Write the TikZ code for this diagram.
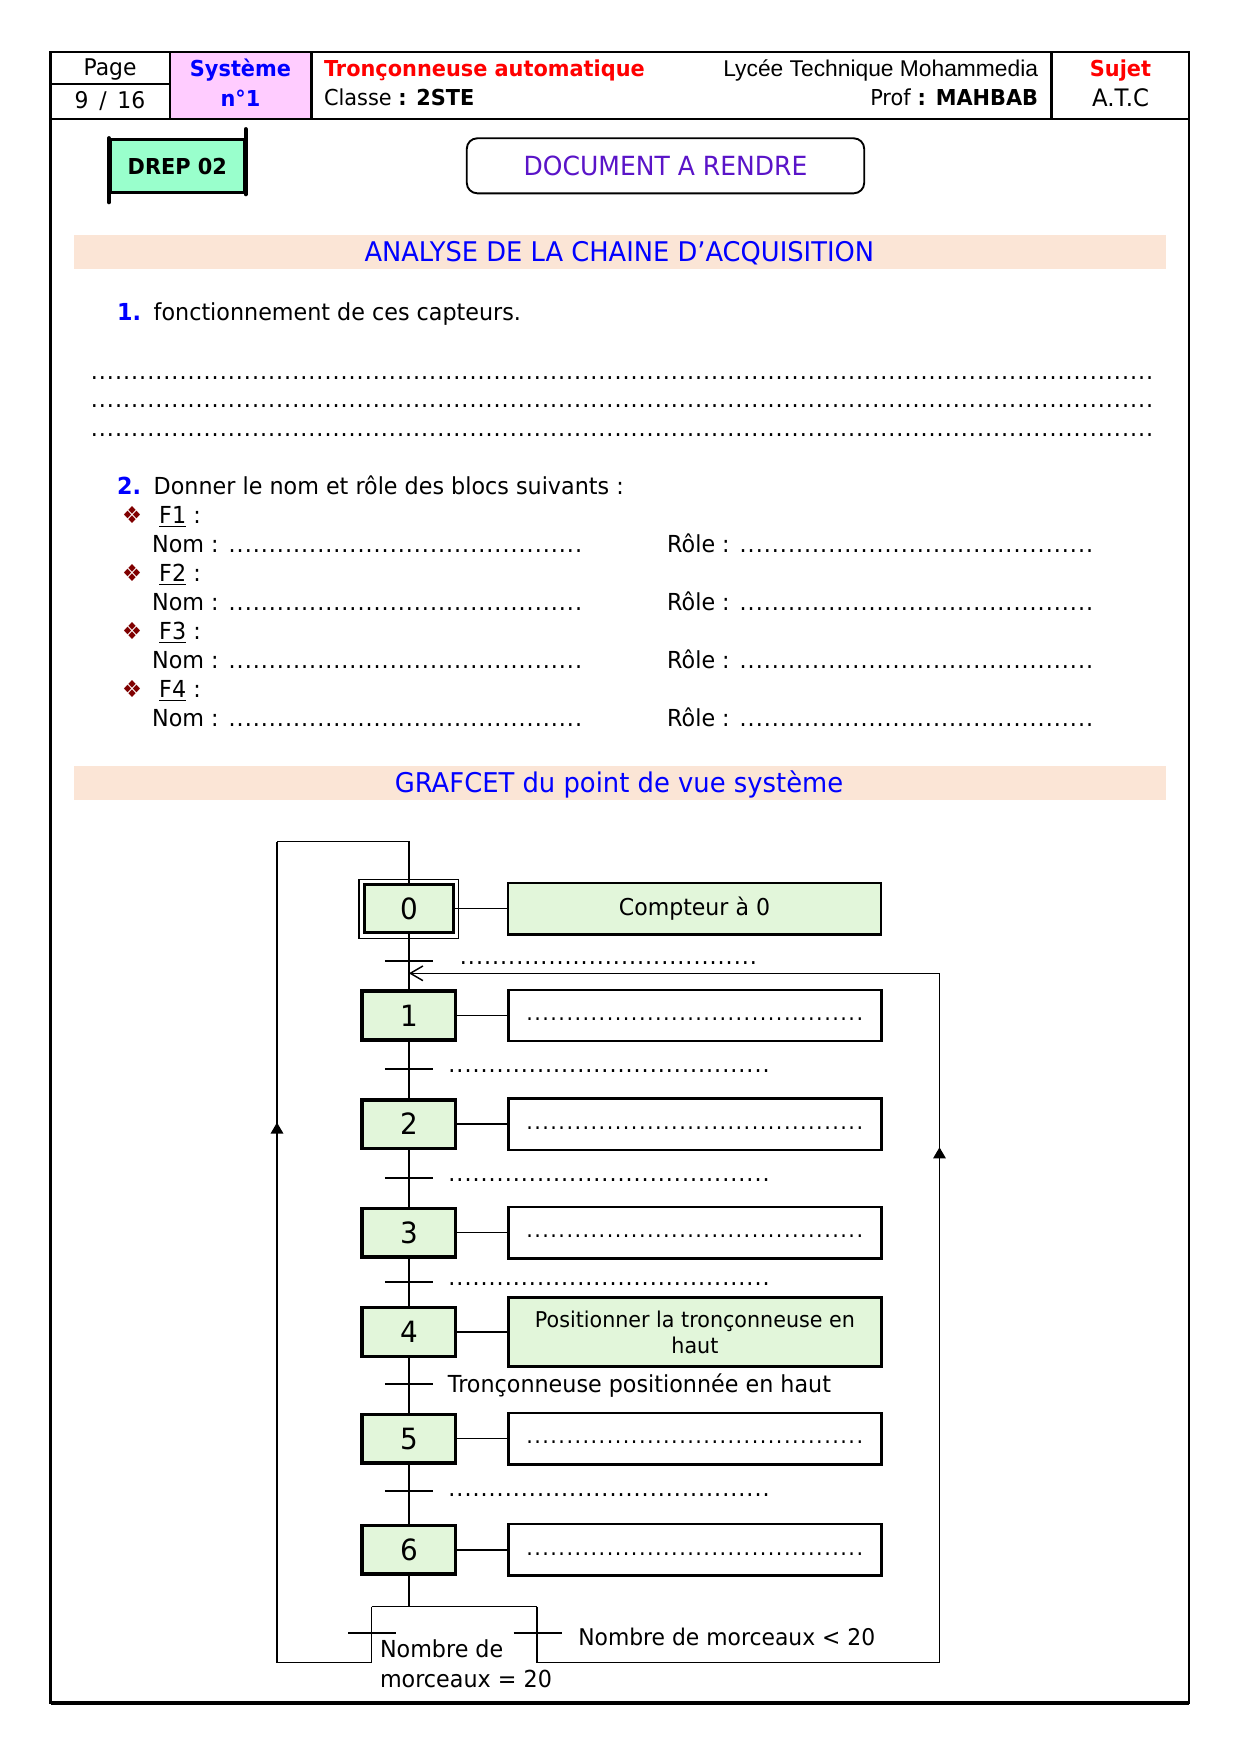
\documentclass[tikz,border=0pt]{standalone}
\usepackage{fontspec}
\setmainfont{DejaVu Sans}[FakeStretch=0.95]
\newfontfamily\arialfont{Liberation Sans}
\usetikzlibrary{arrows.meta,positioning,calc,decorations.markings}
\definecolor{titleblue}{HTML}{0000FF}
\definecolor{titlered}{HTML}{FF0000}
\definecolor{docpurple}{HTML}{5A14C8}
\definecolor{bandpeach}{HTML}{FBE5D6}
\definecolor{cellpink}{HTML}{FFCCFF}
\definecolor{drepgreen}{HTML}{99FFCC}
\definecolor{stepgreen}{HTML}{E2F6DA}
\definecolor{bulletred}{HTML}{800000}
\newcommand\pointilles[1]{\hbox to #1{\leaders\hbox to 3.85pt{\hss.\hss}\hfill}}

\begin{document}
\begin{tikzpicture}[
  x=0.4781pt, y=-0.4781pt,
  font=\fontsize{11.2}{13.5}\selectfont,
  txt/.style={anchor=base west, inner sep=0pt},
  hdr/.style={anchor=base, inner sep=0pt, font=\fontsize{10.5}{12}\selectfont},
  hdrbold/.style={hdr, font=\fontsize{10.5}{12}\selectfont\bfseries},
  stepbox/.style={draw, line width=1.7pt, fill=stepgreen, minimum width=44.7pt,
    minimum height=23.3pt, inner sep=0pt, font=\fontsize{14}{16}\selectfont},
  stepzero/.style={stepbox, line width=1.3pt, minimum width=42.5pt, minimum height=23pt},
  actbox/.style={draw, line width=1.2pt, minimum width=178.5pt, minimum height=24.6pt,
    align=center, inner sep=1pt, font=\fontsize{10.4}{12.4}\selectfont},
  link/.style={line width=0.7pt},
  tick/.style={line width=0.9pt},
  upmark/.style={postaction={decorate, decoration={markings,
    mark=at position #1 with {\arrow{Triangle[length=5.3pt,width=6pt]}}}}}
]
\useasboundingbox (0,0) rectangle (1245,1755);
\fill[white] (0,0) rectangle (1245,1755);

% cartouche
\fill[cellpink] (170,52) rectangle (311.5,119.3);
\draw[line width=1.2pt] (50.5,52) rectangle (1189,1703);
\draw[line width=1.9pt] (50.5,1703) -- (1189,1703);
\draw[line width=1pt] (50.5,119.3) -- (1189,119.3);
\draw[line width=1pt] (170,52) -- (170,119.3);
\draw[line width=1pt] (311.5,52) -- (311.5,119.3);
\draw[line width=1pt] (1051.5,52) -- (1051.5,119.3);
\draw[line width=1pt] (50.5,84.3) -- (170,84.3);
\node[hdr, font=\fontsize{11}{12}\selectfont] (page) at (110,75) {Page};
\node[hdr, font=\fontsize{11}{12}\selectfont] (pnum) at (110,108) {9 \,/\, 16};
\node[hdrbold, text=titleblue] (sys) at (240.5,76) {Système};
\node[hdrbold, text=titleblue] (sysn) at (240.5,106.5) {n°1};
\node[hdrbold, anchor=base west, text=titlered] (titre) at (323.6,76.7) {Tronçonneuse automatique};
\node[hdr, anchor=base west] (classe) at (323.6,105) {Classe \textbf{: 2STE}};
\node[hdr, anchor=base east, font=\fontsize{10.9}{13}\selectfont\arialfont] (lycee) at (1038.5,76.7) {Lycée Technique Mohammedia};
\node[hdr, anchor=base east] (prof) at (1038.5,105) {Prof \textbf{: MAHBAB}};
\node[hdrbold, text=titlered] (sujet) at (1120.5,76) {Sujet};
\node[hdr, font=\fontsize{11.5}{12}\selectfont] (atc) at (1120.5,106.5) {A.T.C};

% en-tete du document
\node[draw, line width=1.4pt, fill=drepgreen, minimum width=64pt, minimum height=25.4pt,
  inner sep=0pt, font=\fontsize{10.5}{12}\selectfont\bfseries] (drep) at (177.3,166.2) {DREP 02};
\draw[line width=2pt, line cap=round] (drep.north west) -- ($(drep.south west)+(0,8)$);
\draw[line width=2pt, line cap=round] ($(drep.north east)+(0,-9)$) -- (drep.south east);
\node[draw, line width=0.9pt, rounded corners=5pt, minimum width=190pt, minimum height=26.3pt,
  text=docpurple, font=\fontsize{12.6}{14}\selectfont] (docrendre) at (665.5,165.8) {DOCUMENT A RENDRE};

% partie 1
\fill[bandpeach] (74,235) rectangle (1166,269.3);
\node[anchor=base, inner sep=0pt, text=titleblue, font=\fontsize{12.95}{15}\selectfont] (titre1) at (619.3,261.6) {ANALYSE DE LA CHAINE D’ACQUISITION};
\node[txt, text=titleblue, font=\fontsize{11.2}{13.5}\selectfont\bfseries] (q1num) at (116.7,320) {1.};
\node[txt] (q1txt) at (153.3,320) {fonctionnement de ces capteurs.};
\foreach \i/\y in {1/379,2/407.5,3/436}
  \node[txt] (pl\i) at (90,\y) {\pointilles{510pt}};
\node[txt, text=titleblue, font=\fontsize{11.2}{13.5}\selectfont\bfseries] (q2num) at (116.7,494) {2.};
\node[txt] (q2txt) at (153.3,494) {Donner le nom et rôle des blocs suivants :};
\foreach \i/\y in {1/523,2/581,3/639,4/697} {
  \node[anchor=base, inner sep=0pt, text=bulletred] (bul\i) at (132,\y) {❖};
  \node[txt] (f\i) at (158.8,\y) {\underline{F\i} :};
  \node[txt] (nom\i) at (151.8,\y+29) {Nom : \pointilles{170pt}};
  \node[txt] (role\i) at (666.8,\y+29) {Rôle : \pointilles{171pt}};
}

% grafcet
\fill[bandpeach] (74,766) rectangle (1166,800);
\node[anchor=base, inner sep=0pt, text=titleblue, font=\fontsize{13}{15}\selectfont] (titre2) at (619,792.6) {GRAFCET du point de vue système};

\node[stepzero] (s0) at (408.9,908.7) {0};
\draw[line width=0.6pt] ($(s0.north west)+(-4,-4)$) rectangle ($(s0.south east)+(4,4)$);
\node[stepbox] (s1) at (408.9,1015.5) {1};
\node[stepbox] (s2) at (408.9,1124.1) {2};
\node[stepbox] (s3) at (408.9,1232.7) {3};
\node[stepbox] (s4) at (408.9,1332) {4};
\node[stepbox] (s5) at (408.9,1438.7) {5};
\node[stepbox] (s6) at (408.9,1549.8) {6};

\node[actbox, fill=stepgreen, font=\fontsize{11.1}{13}\selectfont, right=24.8pt of s0] (a0) {Compteur à 0};
\node[actbox, right=23.7pt of s1] (a1) {\strut\pointilles{162pt}};
\node[actbox, right=23.7pt of s2] (a2) {\strut\pointilles{162pt}};
\node[actbox, right=23.7pt of s3] (a3) {\strut\pointilles{162pt}};
\node[actbox, fill=stepgreen, minimum height=32.8pt, right=23.7pt of s4] (a4) {Positionner la tronçonneuse en\\haut};
\node[actbox, right=23.7pt of s5] (a5) {\strut\pointilles{162pt}};
\node[actbox, right=23.7pt of s6] (a6) {\strut\pointilles{162pt}};

\foreach \n in {0,...,6}
  \draw[link] (s\n) -- (a\n);
\foreach \n [evaluate=\n as \m using int(\n+1)] in {0,...,5}
  \draw[link] (s\n) -- (s\m);

% receptivites
\foreach \n/\y in {0/960.7,1/1069,2/1178,3/1282,4/1384.3,5/1491} {
  \coordinate (t\n) at (408.9,\y);
  \draw[tick] ($(t\n)+(-24,0)$) -- ($(t\n)+(24,0)$);
}
\node[txt] (r0) at (459,964.5) {\pointilles{144pt}};
\foreach \n/\y in {1/1072.5,2/1181.5,3/1285,5/1496}
  \node[txt] (r\n) at (447.5,\y) {\pointilles{157pt}};
\node[txt] (r4) at (447.5,1392.6) {Tronçonneuse positionnée en haut};

% divergence en OU et bouclages
\coordinate (jn) at (408.9,1606.7);
\coordinate (ouG) at (371.6,1606.7);
\coordinate (ouD) at (536.8,1606.7);
\coordinate (bG) at (371.6,1662.7);
\coordinate (bD) at (536.8,1662.7);
\coordinate (cG) at (277,1662.7);
\coordinate (cD) at (939.5,1662.7);
\coordinate (hG) at (277,841.7);
\coordinate (top0) at (408.9,841.7);
\coordinate (hD) at (939.5,973.3);
\coordinate (e1) at (408.9,973.3);
\draw[link] (s6) -- (jn);
\draw[link] (ouG) -- (ouD);
\draw[link] (ouG) -- (bG) -- (cG);
\draw[link, upmark=0.658] (cG) -- (hG);
\draw[link] (hG) -- (top0) -- (s0);
\draw[link] (ouD) -- (bD) -- (cD);
\draw[link, upmark=0.7476] (cD) -- (hD);
\draw[link, -{Straight Barb[length=6pt,width=7pt]}] (hD) -- (e1);
\draw[tick] (348,1633.3) -- (396,1633.3);
\draw[tick] (513.6,1633.3) -- (562.2,1633.3);
\node[anchor=north west, inner sep=0pt, align=left, font=\fontsize{11.2}{14.3}\selectfont] (fin) at (379.6,1639.2) {Nombre de\\morceaux = 20};
\node[txt, font=\fontsize{11}{13.5}\selectfont] (suite) at (577.9,1645) {Nombre de morceaux < 20};
\end{tikzpicture}
\end{document}
